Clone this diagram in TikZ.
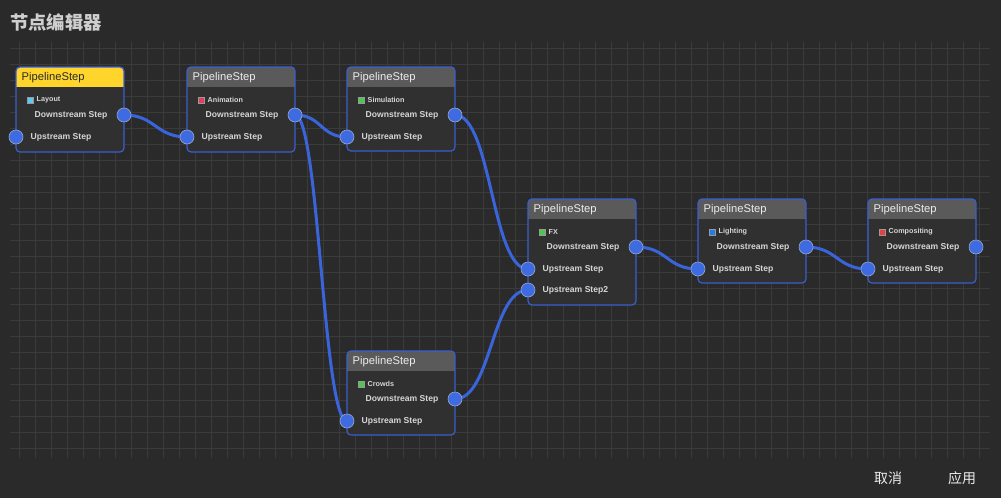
\documentclass[tikz,border=0pt]{standalone}
\usepackage{fontspec}
\setmainfont{Liberation Sans}
\newfontfamily\cjk{Noto Sans CJK SC}
\definecolor{bgc}{HTML}{2A2A2A}
\definecolor{gridc}{HTML}{3B3B3B}
\definecolor{bodyc}{HTML}{303030}
\definecolor{hdrgray}{HTML}{5A5A5A}
\definecolor{hdryel}{HTML}{FFD52B}
\definecolor{bordc}{HTML}{3A5FCD}
\definecolor{edgec}{HTML}{3A64DA}
\definecolor{portc}{HTML}{3E6BE2}
\definecolor{portline}{HTML}{9AA6C8}
\definecolor{txtc}{HTML}{D6D6D6}
\definecolor{titlec}{HTML}{CFCFCF}
\definecolor{sqlayout}{HTML}{5BC8F5}
\definecolor{sqanim}{HTML}{E23D5B}
\definecolor{sqgreen}{HTML}{4CC94C}
\definecolor{sqlight}{HTML}{1F7FE6}
\definecolor{sqcomp}{HTML}{E8403E}
\definecolor{darktitle}{HTML}{2A2A2A}
\definecolor{lighttitle}{HTML}{ECECEC}
\pgfdeclarelayer{bglayer}
\pgfdeclarelayer{edgelayer}
\pgfsetlayers{bglayer,edgelayer,main}
\tikzset{
  gridline/.style={draw=gridc, line width=0.8pt},
  nodebody/.style={fill=bodyc, rounded corners=4pt, inner sep=0pt, outer sep=0pt, minimum width=108pt},
  nodeborder/.style={draw=bordc, line width=1.2pt, rounded corners=4pt},
  titletext/.style={inner sep=0pt, font=\fontsize{11.2}{13}\selectfont},
  labeltext/.style={inner sep=0pt, text=txtc, font=\bfseries\fontsize{7.2}{8}\selectfont},
  porttext/.style={inner sep=0pt, text=txtc, font=\bfseries\fontsize{8.6}{10}\selectfont},
  sq/.style={inner sep=0pt, minimum size=6pt, draw=black!40, line width=0.3pt},
  port/.style={circle, fill=portc, draw=portline, line width=0.6pt, minimum size=14pt, inner sep=0pt},
  edge/.style={draw=edgec, line width=3pt},
  btn/.style={inner sep=0pt, text=lighttitle, font=\cjk\fontsize{14}{16}\selectfont}
}
\newcommand\pipenode[8]{%
  \begin{pgfonlayer}{bglayer}
    \node[nodebody, minimum height=#4pt, anchor=north west] (#1) at (#2,#3) {};
    \begin{scope}
      \clip[rounded corners=4pt] (#1.north west) rectangle (#1.south east);
      \fill[#5] (#1.north west) rectangle ([yshift=-20pt]#1.north east);
    \end{scope}
    \draw[nodeborder] (#1.north west) rectangle (#1.south east);
  \end{pgfonlayer}
  \node[titletext, text=#6, anchor=west] (#1-title) at ([xshift=5.5pt,yshift=-10.8pt]#1.north west) {PipelineStep};
  \node[sq, fill=#8] (#1-sq) at ([xshift=14pt,yshift=-32.8pt]#1.north west) {};
  \node[labeltext, anchor=west] (#1-lbl) at ([xshift=20.5pt,yshift=-33pt]#1.north west) {#7};
  \node[porttext, anchor=west] (#1-dtxt) at ([xshift=18.5pt,yshift=-48.8pt]#1.north west) {Downstream Step};
  \node[port] (#1-d) at ([yshift=-48pt]#1.north east) {};
  \node[porttext, anchor=west] (#1-utxt) at ([xshift=14.5pt,yshift=-70.8pt]#1.north west) {Upstream Step};
  \node[port] (#1-u) at ([yshift=-70pt]#1.north west) {};
}
\begin{document}
\begin{tikzpicture}[x=1pt, y=-1pt]
  \begin{pgfonlayer}{bglayer}
    \fill[bgc] (0,0) rectangle (1001,498);
    \foreach \x in {19,35,...,979} \draw[gridline] (\x,42) -- (\x,458);
    \foreach \y in {48,64,...,448} \draw[gridline] (10,\y) -- (990,\y);
  \end{pgfonlayer}
  \useasboundingbox (0,0) rectangle (1001,498);

  \node[anchor=west, inner sep=0pt, text=titlec, font=\cjk\bfseries\fontsize{18.3}{20}\selectfont] (heading) at (10,22) {节点编辑器};

  \pipenode{lay}{16}{67}{85}{hdryel}{darktitle}{Layout}{sqlayout}
  \pipenode{ani}{187}{67}{85}{hdrgray}{lighttitle}{Animation}{sqanim}
  \pipenode{sim}{347}{67}{84}{hdrgray}{lighttitle}{Simulation}{sqgreen}
  \pipenode{fx}{528}{199}{106}{hdrgray}{lighttitle}{FX}{sqgreen}
  \pipenode{lig}{698}{199}{84}{hdrgray}{lighttitle}{Lighting}{sqlight}
  \pipenode{com}{868}{199}{84}{hdrgray}{lighttitle}{Compositing}{sqcomp}
  \pipenode{cro}{347}{351}{84}{hdrgray}{lighttitle}{Crowds}{sqgreen}
  \node[porttext, anchor=west] (fx-u2txt) at ([xshift=14.5pt,yshift=-91.8pt]fx.north west) {Upstream Step2};
  \node[port] (fx-u2) at ([yshift=-91pt]fx.north west) {};

  \begin{pgfonlayer}{edgelayer}
    \draw[edge] (lay-d.center) .. controls +(31.5,0) and +(-31.5,0) .. (ani-u.center);
    \draw[edge] (ani-d.center) .. controls +(27,0) and +(-27,0) .. (sim-u.center);
    \draw[edge] (ani-d.center) .. controls +(24,0) and +(-24,0) .. (cro-u.center);
    \draw[edge] (sim-d.center) .. controls +(36.5,0) and +(-36.5,0) .. (fx-u.center);
    \draw[edge] (cro-d.center) .. controls +(36.5,0) and +(-36.5,0) .. (fx-u2.center);
    \draw[edge] (fx-d.center) .. controls +(31.5,0) and +(-31.5,0) .. (lig-u.center);
    \draw[edge] (lig-d.center) .. controls +(31,0) and +(-31,0) .. (com-u.center);
  \end{pgfonlayer}

  \node[btn] (cancel) at (888,478) {取消};
  \node[btn] (apply) at (962,478) {应用};
\end{tikzpicture}
\end{document}
